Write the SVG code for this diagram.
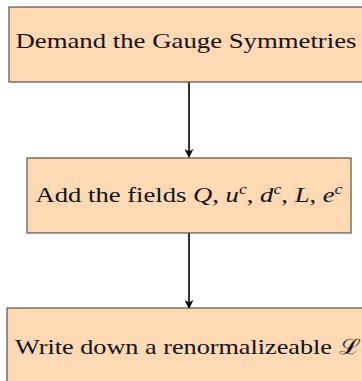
<svg xmlns="http://www.w3.org/2000/svg" width="362" height="381" viewBox="0 0 362 381">
<style>
.box{fill:#FFD9B3;stroke:#333;stroke-width:1}
.t{font-family:"Liberation Serif","DejaVu Serif",serif;font-size:21px;fill:#111;text-anchor:middle}
.m{font-style:italic}
.s{font-size:14px;font-style:italic}
.edge{stroke:#000;stroke-width:1.6;fill:none}
</style>
<defs>
<marker id="ah" viewBox="0 0 10 10" refX="9" refY="5" markerWidth="9" markerHeight="9" markerUnits="userSpaceOnUse" orient="auto">
<path d="M0,0 L10,5 L0,10 L3,5 Z" fill="#000"/>
</marker>
</defs>
<g id="connectors">
<line class="edge" x1="189" y1="82" x2="189" y2="157" marker-end="url(#ah)"/>
<line class="edge" x1="189" y1="233" x2="189" y2="308" marker-end="url(#ah)"/>
</g>
<g id="n1">
<rect class="box" x="9" y="7" width="360" height="75"/>
<text class="t" x="186" y="48" textLength="341" lengthAdjust="spacingAndGlyphs">Demand the Gauge Symmetries</text>
</g>
<g id="n2">
<rect class="box" x="27" y="158" width="324" height="75"/>
<text class="t" x="189" y="202" textLength="307" lengthAdjust="spacingAndGlyphs">Add the fields <tspan class="m">Q</tspan>, <tspan class="m">u</tspan><tspan class="s" dy="-8">c</tspan><tspan dy="8">, </tspan><tspan class="m">d</tspan><tspan class="s" dy="-8">c</tspan><tspan dy="8">, </tspan><tspan class="m">L</tspan>, <tspan class="m">e</tspan><tspan class="s" dy="-8">c</tspan></text>
</g>
<g id="n3">
<rect class="box" x="7" y="308" width="364" height="80"/>
<text class="t" x="188" y="354" textLength="346" lengthAdjust="spacingAndGlyphs">Write down a renormalizeable ℒ</text>
</g>
</svg>
